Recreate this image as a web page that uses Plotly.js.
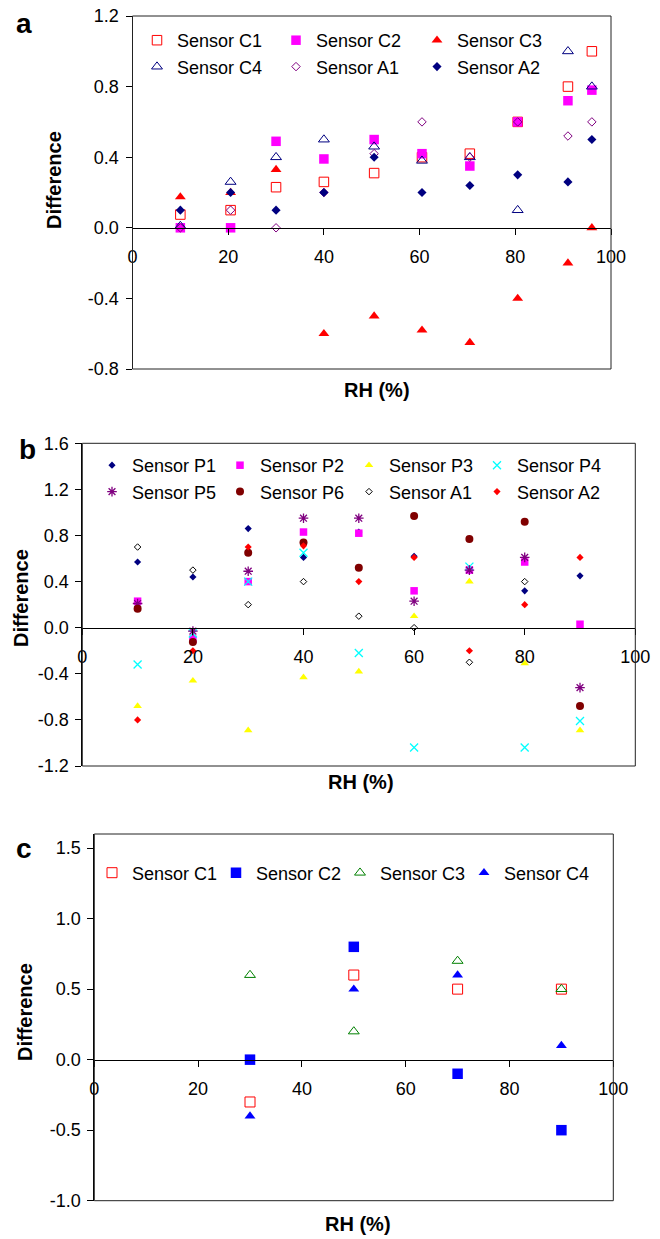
<!DOCTYPE html>
<html>
<head>
<meta charset="utf-8">
<script src="https://cdn.plot.ly/plotly-3.0.1.min.js"></script>
<style>html,body{margin:0;padding:0;background:#fff;}#chart{width:660px;height:1239px;}</style>
</head>
<body>
<div id="chart"></div>
<script>
// ---------- Panel a data ----------
const rhA = [10, 20.5, 30, 40, 50.5, 60.5, 70.5, 80.5, 91, 96];
const aC1 = [0.075, 0.10, 0.23, 0.26, 0.31, 0.40, 0.42, 0.60, 0.80, 1.00];
const aC2 = [0.00, 0.00, 0.49, 0.39, 0.50, 0.42, 0.35, 0.60, 0.72, 0.78];
const aC3 = [0.175, 0.20, 0.33, -0.60, -0.50, -0.58, -0.65, -0.40, -0.20, 0.00];
const aC4 = [0.01, 0.26, 0.40, 0.50, 0.46, 0.38, 0.40, 0.10, 1.00, 0.80];
const aA1 = [0.00, 0.10, 0.00, 0.20, 0.42, 0.60, 0.40, 0.60, 0.52, 0.60];
const aA2 = [0.10, 0.20, 0.10, 0.20, 0.40, 0.20, 0.24, 0.30, 0.26, 0.50];

// ---------- Panel b data ----------
const rhB = [10, 20, 30, 40, 50, 60, 70, 80, 90];
const bP1 = [0.57, 0.44, 0.86, 0.61, 0.83, 0.62, 0.51, 0.32, 0.45];
const bP2 = [0.23, -0.10, 0.40, 0.83, 0.82, 0.32, 0.50, 0.57, 0.03];
const bP3 = [-0.68, -0.46, -0.89, -0.43, -0.38, 0.10, 0.40, -0.31, -0.89];
const bP4 = [-0.32, -0.05, 0.40, 0.65, -0.22, -1.04, 0.53, -1.04, -0.81];
const bP5 = [0.21, -0.03, 0.49, 0.95, 0.95, 0.23, 0.50, 0.61, -0.52];
const bP6 = [0.165, -0.125, 0.65, 0.74, 0.52, 0.97, 0.77, 0.92, -0.68];
const bA1 = [0.70, 0.50, 0.20, 0.40, 0.10, 0.00, -0.30, 0.40, null];
const bA2 = [-0.80, -0.20, 0.70, 0.71, 0.40, 0.61, -0.20, 0.20, 0.61];

// ---------- Panel c data ----------
const rhC = [30, 50, 70, 90];
const cC1 = [-0.30, 0.60, 0.50, 0.50];
const cC2 = [0.00, 0.80, -0.10, -0.50];
const cC3 = [0.60, 0.20, 0.70, 0.50];
const cC4 = [-0.40, 0.50, 0.60, 0.10];

// ---------- tick labels ----------
const xTicks = [0, 20, 40, 60, 80, 100];
const xTickText = ['0', '20', '40', '60', '80', '100'];
const yTicksA = [-0.8, -0.4, 0, 0.4, 0.8, 1.2];
const yTextA = ['-0.8', '-0.4', '0.0', '0.4', '0.8', '1.2'];
const yTicksB = [-1.2, -0.8, -0.4, 0, 0.4, 0.8, 1.2, 1.6];
const yTextB = ['-1.2', '-0.8', '-0.4', '0.0', '0.4', '0.8', '1.2', '1.6'];
const yTicksC = [-1.0, -0.5, 0, 0.5, 1.0, 1.5];
const yTextC = ['-1.0', '-0.5', '0.0', '0.5', '1.0', '1.5'];

// ---------- layout helpers ----------
const W = 660, H = 1239;
const FONT = 'Liberation Sans, Arial, sans-serif';
const px = v => v / W;
const py = v => 1 - v / H;

const P = {
  a: {l: 132.5, r: 611, t: 16, b: 369, yr: [-0.8, 1.2]},
  b: {l: 82.3, r: 635.3, t: 443.3, b: 766, yr: [-1.2, 1.6]},
  c: {l: 94.3, r: 613.3, t: 834, b: 1200.7, yr: [-1.0, 1.6]}
};
function xdom(p) { return [px(p.l), px(p.r)]; }
function ydom(p) { return [py(p.b), py(p.t)]; }
function zeroPos(p) {
  const d = ydom(p);
  return d[0] + (d[1] - d[0]) * (0 - p.yr[0]) / (p.yr[1] - p.yr[0]);
}
function xax(p) {
  return {
    domain: xdom(p), anchor: 'free', position: zeroPos(p), range: [0, 100],
    tickmode: 'array', tickvals: xTicks, ticktext: xTickText,
    ticks: 'outside', ticklen: 6, tickcolor: '#000', ticklabelstandoff: 7,
    showline: true, linecolor: '#000', linewidth: 1,
    showgrid: false, zeroline: false, tickfont: {size: 18, color: '#000'}
  };
}
function yax(p, anchor, tv, tt) {
  return {
    domain: ydom(p), anchor: anchor, range: p.yr,
    tickmode: 'array', tickvals: tv, ticktext: tt,
    ticks: 'outside', ticklen: 6, tickcolor: '#000', ticklabelstandoff: 3,
    showline: true, linecolor: '#000', linewidth: 1,
    showgrid: false, zeroline: false, tickfont: {size: 18, color: '#000'}
  };
}
function tr(x, y, name, symbol, color, size, xa, ya, lg, lw) {
  return {
    type: 'scatter', mode: 'markers', x: x, y: y, name: name,
    xaxis: xa, yaxis: ya, legend: lg, cliponaxis: false,
    marker: {symbol: symbol, color: color, size: size,
             line: {color: color, width: lw === undefined ? 1 : lw}}
  };
}

// one vertical legend per legend column
const data = [
  tr(rhA, aC1, 'Sensor C1', 'square-open', '#FF0000', 9.5, 'x', 'y', 'legend'),
  tr(rhA, aC2, 'Sensor C2', 'square', '#FF00FF', 9.5, 'x', 'y', 'legend2', 0),
  tr(rhA, aC3, 'Sensor C3', 'triangle-up', '#FF0000', 9.5, 'x', 'y', 'legend3', 0),
  tr(rhA, aC4, 'Sensor C4', 'triangle-up-open', '#000080', 9.5, 'x', 'y', 'legend'),
  tr(rhA, aA1, 'Sensor A1', 'diamond-open', '#800080', 6.5, 'x', 'y', 'legend2'),
  tr(rhA, aA2, 'Sensor A2', 'diamond', '#000080', 7, 'x', 'y', 'legend3', 0),

  tr(rhB, bP1, 'Sensor P1', 'diamond', '#000080', 5.5, 'x2', 'y2', 'legend4', 0),
  tr(rhB, bP2, 'Sensor P2', 'square', '#FF00FF', 7.5, 'x2', 'y2', 'legend5', 0),
  tr(rhB, bP3, 'Sensor P3', 'triangle-up', '#FFFF00', 7.5, 'x2', 'y2', 'legend6', 0),
  tr(rhB, bP4, 'Sensor P4', 'x-thin-open', '#00FFFF', 8, 'x2', 'y2', 'legend7', 1.3),
  tr(rhB, bP5, 'Sensor P5', 'asterisk-open', '#800080', 8, 'x2', 'y2', 'legend4', 1.3),
  tr(rhB, bP6, 'Sensor P6', 'circle', '#800000', 8, 'x2', 'y2', 'legend5', 0),
  tr(rhB, bA1, 'Sensor A1', 'diamond-open', '#000000', 5, 'x2', 'y2', 'legend6'),
  tr(rhB, bA2, 'Sensor A2', 'diamond', '#FF0000', 5.5, 'x2', 'y2', 'legend7', 0),

  tr(rhC, cC1, 'Sensor C1', 'square-open', '#FF0000', 10, 'x3', 'y3', 'legend8'),
  tr(rhC, cC2, 'Sensor C2', 'square', '#0000FF', 10.5, 'x3', 'y3', 'legend9', 0),
  tr(rhC, cC3, 'Sensor C3', 'triangle-up-open', '#008000', 9.5, 'x3', 'y3', 'legend10'),
  tr(rhC, cC4, 'Sensor C4', 'triangle-up', '#0000FF', 9.5, 'x3', 'y3', 'legend11', 0)
];

function legend(xpx, ypx) {
  return {
    x: px(xpx), y: py(ypx), xanchor: 'left', yanchor: 'top',
    orientation: 'v', bgcolor: 'rgba(0,0,0,0)', borderwidth: 0,
    font: {size: 18, color: '#000', family: FONT}, tracegroupgap: 0
  };
}
function box(xr, yr) {
  return {type: 'rect', xref: xr + ' domain', yref: yr + ' domain',
          x0: 0, x1: 1, y0: 0, y1: 1, line: {color: '#222', width: 1}, layer: 'above'};
}
function ann(text, xpx, ypx, size, angle) {
  return {text: text, xref: 'paper', yref: 'paper', x: px(xpx), y: py(ypx),
          xanchor: 'center', yanchor: 'middle', showarrow: false, textangle: angle || 0,
          font: {size: size, color: '#000', family: FONT, weight: 'bold'}};
}

const layout = {
  width: W, height: H, margin: {l: 0, r: 0, t: 0, b: 0},
  paper_bgcolor: '#fff', plot_bgcolor: 'rgba(0,0,0,0)',
  font: {family: FONT, color: '#000'},
  showlegend: true,
  xaxis: xax(P.a), yaxis: yax(P.a, 'x', yTicksA, yTextA),
  xaxis2: xax(P.b), yaxis2: yax(P.b, 'x2', yTicksB, yTextB),
  xaxis3: xax(P.c), yaxis3: yax(P.c, 'x3', yTicksC, yTextC),
  legend: legend(137, 22),
  legend2: legend(276, 22),
  legend3: legend(417, 22),
  legend4: legend(92, 447),
  legend5: legend(220, 447),
  legend6: legend(349, 447),
  legend7: legend(477, 447),
  legend8: legend(92, 854.5),
  legend9: legend(216, 854.5),
  legend10: legend(340, 854.5),
  legend11: legend(464, 854.5),
  shapes: [box('x', 'y'), box('x2', 'y2'), box('x3', 'y3')],
  annotations: [
    ann('a', 24, 24, 28), ann('b', 27, 449, 28), ann('c', 24, 848, 28),
    ann('Difference', 54, 180, 20, -90),
    ann('Difference', 21, 598, 20, -90),
    ann('Difference', 25, 1012, 20, -90),
    ann('RH (%)', 377, 390, 20),
    ann('RH (%)', 361, 782, 20),
    ann('RH (%)', 358, 1224, 20)
  ]
};

Plotly.newPlot('chart', data, layout, {staticPlot: true, displayModeBar: false});
</script>
</body>
</html>
